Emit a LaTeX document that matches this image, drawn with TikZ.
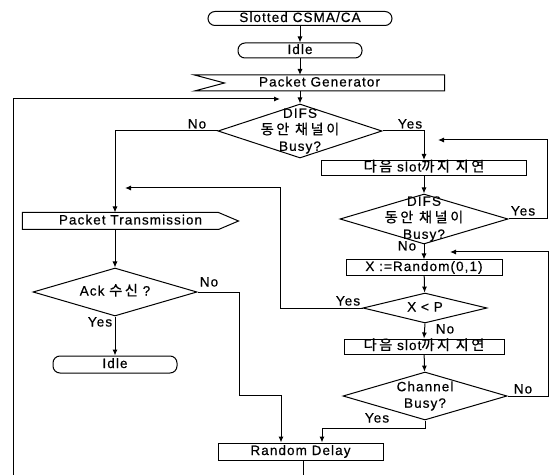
\documentclass[tikz,border=0pt]{standalone}
\usepackage{fontspec}
\setmainfont[LetterSpace=8,FakeBold=0.5]{Liberation Sans}
\newfontfamily\kr[LetterSpace=18,Scale=1.05,FakeBold=0.5]{Noto Sans CJK KR}
\usetikzlibrary{shapes.geometric,arrows.meta}
\begin{document}
\begin{tikzpicture}[x=1bp,y=-1bp, line width=1bp,
  every node/.style={font=\fontsize{13.5bp}{16.5bp}\selectfont, inner sep=0pt},
  term/.style={draw, rounded corners=7bp, text height=9.5bp, text depth=2.5bp},
  proc/.style={draw, text height=9.5bp, text depth=2.5bp},
  plain/.style={text height=9.5bp, text depth=2.5bp},
  dec/.style={draw, diamond},
  dtext/.style={align=center},
  lbl/.style={text height=9.5bp, text depth=2.5bp},
  arr/.style={-{Latex[length=6bp,width=5bp]}}]
\useasboundingbox (0,0) rectangle (558,475);

% helper coordinates
\coordinate (leftcol) at (115,0);
\coordinate (loopB) at (13,475);
\coordinate (loopT) at (13,99);
\coordinate (loopE) at (280,99);
\coordinate (r1) at (547,140);
\coordinate (r1e) at (438,140);
\coordinate (y1) at (280,188);
\coordinate (y1e) at (125,188);
\coordinate (r2) at (548,252);
\coordinate (r2e) at (450,252);
\coordinate (n1) at (239,395);
\coordinate (n2) at (281,395);
\coordinate (cy) at (322,428);
\coordinate (rdExit) at (303,475);

% top column
\node[term, minimum width=184bp, minimum height=14bp] (start) at (300,18.5) {Slotted CSMA/CA};
\node[term, minimum width=124bp, minimum height=15bp] (idleA) at (300,50.5) {Idle};
\node[plain, minimum width=249bp, minimum height=15bp] (gen) at (319.5,83) {Packet Generator};
\draw (gen.north west) -- (gen.north east) -- (gen.south east) -- (gen.south west)
      -- ([xshift=30bp]gen.west) -- cycle;
\node[dec, minimum width=164bp, minimum height=54bp] (d1) at (300,131) {};
\node[dtext] (d1t) at (300,131) {DIFS\\{\kr 동안 채널이}\\Busy?};

% right column
\node[proc, minimum width=205bp, minimum height=15bp] (box1) at (424,168) {{\kr 다음} slot{\kr 까지 지연}};
\node[dec, minimum width=168bp, minimum height=50bp] (d2) at (424,219) {};
\node[dtext] (d2t) at (424,219) {DIFS\\{\kr 동안 채널이}\\Busy?};
\node[proc, minimum width=156bp, minimum height=15bp] (rand) at (424,267.5) {X :=Random(0,1)};
\node[dec, minimum width=124bp, minimum height=30bp] (xp) at (425,308) {};
\node[plain] (xpt) at (425,308) {X < P};
\node[proc, minimum width=160bp, minimum height=15bp] (box3) at (424,346.5) {{\kr 다음} slot{\kr 까지 지연}};
\node[dec, minimum width=164bp, minimum height=48bp] (chan) at (425,396) {};
\node[dtext] (chant) at (425,396) {Channel\\Busy?};

% left column
\node[plain, minimum width=215bp, minimum height=16bp] (pt) at (130.5,221) {Packet Transmission};
\draw (pt.north west) -- ([xshift=-20bp]pt.north east) -- (pt.east)
      -- ([xshift=-20bp]pt.south east) -- (pt.south west) -- cycle;
\node[dec, minimum width=164bp, minimum height=48bp] (ack) at (115,292) {};
\node[plain] (ackt) at (115,292) {Ack {\kr 수신} ?};
\node[term, minimum width=124bp, minimum height=17bp] (idleB) at (115,364.5) {Idle};

% bottom
\node[proc, minimum width=165bp, minimum height=17bp] (rd) at (300.5,451.5) {Random Delay};

% labels
\node[lbl] (l1) at (197,125) {No};
\node[lbl] (l2) at (410,125) {Yes};
\node[lbl] (l3) at (523,212) {Yes};
\node[lbl] (l4) at (407,247) {No};
\node[lbl] (l5) at (348,302) {Yes};
\node[lbl] (l6) at (445,330) {No};
\node[lbl] (l7) at (523,390) {No};
\node[lbl] (l8) at (377,419) {Yes};
\node[lbl] (l9) at (209,283) {No};
\node[lbl] (l10) at (100,323) {Yes};

% connectors
\draw[arr] (start) -- (idleA);
\draw[arr] (idleA) -- (idleA |- gen.north);
\draw[arr] (idleA |- gen.south) -- (d1);
\draw[arr] (loopB) -- (loopT) -- (loopE);
\draw[arr] (d1.west) -| (leftcol |- pt.north);
\draw[arr] (d1.east) -| (box1.north);
\draw[arr] (box1) -- (d2);
\draw[arr] (d2.east) -| (r1) -- (r1e);
\draw[arr] (d2.south) -- (rand.north);
\draw[arr] (rand) -- (xp);
\draw[arr] (xp.west) -| (y1) -- (y1e);
\draw[arr] (xp.south) -- (box3.north);
\draw[arr] (box3) -- (chan);
\draw[arr] (chan.east) -| (r2) -- (r2e);
\draw[arr] (chan.south) |- (cy) -- (cy |- rd.north);
\draw[arr] (leftcol |- pt.south) -- (ack.north);
\draw[arr] (ack.south) -- (idleB.north);
\draw[arr] (ack.east) -| (n1) -- (n2) -- (n2 |- rd.north);
\draw (rdExit |- rd.south) -- (rdExit);
\end{tikzpicture}
\end{document}
